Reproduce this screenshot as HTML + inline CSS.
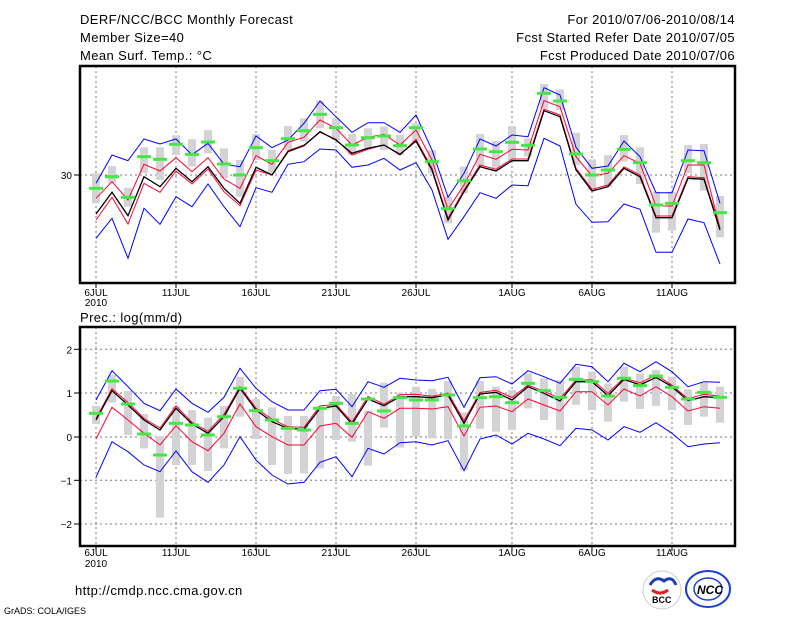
<!DOCTYPE html>
<html><head><meta charset="utf-8"><style>
body{margin:0;background:#fff;width:800px;height:618px;overflow:hidden}
svg{display:block}
text{font-family:"Liberation Sans",sans-serif;fill:#000}
</style></head><body>
<svg id="s" width="800" height="618" xmlns="http://www.w3.org/2000/svg">
<g font-size="13" letter-spacing="0.4">
<text x="80" y="24">DERF/NCC/BCC Monthly Forecast</text>
<text x="80" y="42">Member Size=40</text>
<text x="80" y="60">Mean Surf. Temp.: °C</text>
<text x="735" y="24" text-anchor="end">For 2010/07/06-2010/08/14</text>
<text x="735" y="42" text-anchor="end">Fcst Started Refer Date 2010/07/05</text>
<text x="735" y="60" text-anchor="end">Fcst Produced Date 2010/07/06</text>
<text x="80" y="322">Prec.: log(mm/d)</text>
<text x="75" y="595">http://cmdp.ncc.cma.gov.cn</text>
</g>
<text x="4" y="614" font-size="9">GrADS: COLA/IGES</text>
<g id="g"></g>
<g transform="translate(0,0)">
<circle cx="662" cy="590" r="19" fill="#fff" stroke="#ccc"/>
<path d="M650 585 q6 -10 14 -4 q8 -6 12 4" fill="none" stroke="#1a3fb0" stroke-width="3"/>
<path d="M652 590 q8 6 16 0" fill="none" stroke="#e02020" stroke-width="3"/>
<text x="652" y="603" font-size="9" font-weight="bold" fill="#1a3fb0">BCC</text>
<ellipse cx="708" cy="589" rx="22" ry="18" fill="#fff" stroke="#1a3fd0" stroke-width="2"/>
<ellipse cx="708" cy="589" rx="14" ry="11" fill="none" stroke="#1a3fd0" stroke-width="1.5"/>
<text x="697" y="594" font-size="12" font-style="italic" font-weight="bold" fill="#1a3fd0">NCC</text>
</g>
</svg>
<script>
const G=document.getElementById('g');let h='';
const X=i=>96+16*i;
function T(a){return a.map(v=>60+v/3)}
function B(a){return a.map(v=>320+v/3)}
function pl(a,c,w){h+=`<polyline fill="none" stroke="${c}" stroke-width="${w||1}" points="${a.map((y,i)=>X(i)+','+y.toFixed(1)).join(' ')}"/>`}
// TOP
const tBU=T([370,285,302,237,252,237,284,250,313,320,228,263,240,190,123,170,217,188,188,217,165,270,412,340,237,258,225,230,83,105,262,325,318,243,290,398,398,270,272,430]);
const tRU=T([415,365,420,313,333,293,335,293,357,385,287,313,247,232,180,205,255,232,223,255,210,300,448,375,283,298,268,270,122,140,290,348,340,287,310,438,438,315,315,505]);
const tK=T([462,397,467,350,380,325,365,320,385,430,322,345,275,257,215,240,280,265,255,283,243,330,480,395,320,333,302,302,152,170,330,393,380,325,350,473,473,355,358,510]);
const tRL=T([480,412,492,370,397,333,372,327,395,437,330,345,272,255,217,238,285,268,255,285,238,325,475,390,315,328,297,297,147,165,325,388,375,320,345,468,468,350,353,505]);
const tBL=T([535,475,595,445,493,410,440,372,440,500,383,397,313,305,267,270,322,315,295,330,308,390,538,470,398,415,375,377,235,258,433,487,485,432,448,577,577,477,488,612]);
const tG=T([385,350,412,290,298,253,283,246,312,345,263,302,236,212,163,203,255,233,228,257,203,305,446,362,267,275,247,256,100,123,282,345,330,268,308,435,430,302,308,458]);
const tGr=[[340,430],[318,370],[383,440],[262,340],[262,360],[226,285],[238,320],[210,280],[265,355],[300,410],[222,300],[270,340],[198,270],[175,245],[122,205],[175,240],[222,285],[205,268],[200,270],[225,285],[190,245],[270,340],[410,490],[320,400],[222,320],[243,325],[198,300],[235,290],[72,145],[88,150],[218,315],[298,390],[285,380],[225,305],[262,372],[395,518],[395,512],[255,340],[252,392],[408,532]];
// BOTTOM
const bBU=B([240,152,200,250,272,207,250,277,232,145,205,245,270,270,212,208,260,185,202,175,180,182,172,262,173,170,192,152,170,190,133,140,185,130,155,125,155,200,185,187]);
const bK=B([300,212,255,300,330,265,312,340,290,205,270,305,325,328,265,258,312,237,257,230,230,233,225,310,222,217,240,200,220,243,185,185,227,178,195,172,200,242,230,233]);
const bRU=bK.map((v,i)=>v-1.5-(i%3)*0.5);
const bRL=B([357,262,300,340,375,317,365,392,340,252,320,350,375,375,318,310,352,275,295,265,265,267,260,348,262,258,275,237,255,273,215,215,255,207,228,200,230,273,260,265]);
const bBL=B([472,365,395,435,455,393,455,487,435,350,420,465,492,487,427,410,470,385,402,368,365,375,362,452,357,345,372,340,357,377,325,330,360,320,337,308,340,380,372,368]);
const bG=B([280,183,252,342,405,310,315,345,290,205,272,300,325,330,265,250,310,237,273,233,240,240,225,318,233,230,248,190,212,232,178,185,228,175,197,168,202,237,217,232]);
const bGr=[[258,312],[165,248],[213,345],[282,385],[348,593],[260,435],[270,435],[293,453],[258,385],[170,290],[237,357],[262,435],[288,462],[288,460],[258,445],[228,360],[222,365],[272,437],[188,323],[218,383],[200,350],[207,355],[183,358],[277,450],[183,327],[200,335],[210,330],[160,265],[175,300],[180,330],[140,255],[155,270],[190,305],[140,245],[160,267],[150,258],[170,270],[208,315],[188,290],[200,308]];
function panel(y0,y1,hl){
  // grid
  [0,5,10,15,20,26,31,36].forEach(i=>{h+=`<line x1="${X(i)}" y1="${y0}" x2="${X(i)}" y2="${y1}" stroke="#777" stroke-dasharray="2,3"/>`;
    h+=`<line x1="${X(i)}" y1="${y1}" x2="${X(i)}" y2="${y1+5}" stroke="#000"/>`;});
  hl.forEach(y=>{h+=`<line x1="80" y1="${y}" x2="735" y2="${y}" stroke="#777" stroke-dasharray="2,3"/><line x1="74" y1="${y}" x2="80" y2="${y}" stroke="#000"/>`});
}
function series(gr,G,BU,RU,K,RL,BL,tr){
  gr.forEach((g,i)=>{const a=tr(g);h+=`<rect x="${X(i)-4}" y="${a[0]}" width="8" height="${a[1]-a[0]}" fill="#d3d3d6"/>`});
  pl(BU,'#0000ff');pl(BL,'#0000ff');pl(RU,'#ff0033');pl(RL,'#ff0033');pl(K,'#000',1.3);
  G.forEach((y,i)=>{h+=`<rect x="${X(i)-7}" y="${y-1.5}" width="14" height="3" fill="#44e844"/>`});
}
panel(66,283,[175]);
series(tGr,tG,tBU,tRU,tK,tRL,tBL,T);
panel(327,546,[349.3,393,437,480.3,524]);
series(bGr,bG,bBU,bRU,bK,bRL,bBL,B);
h+=`<rect x="80" y="66" width="655" height="217" fill="none" stroke="#000" stroke-width="2.5"/>`;
h+=`<rect x="80" y="327" width="655" height="219" fill="none" stroke="#000" stroke-width="2.5"/>`;
const labs=[[0,'6JUL'],[5,'11JUL'],[10,'16JUL'],[15,'21JUL'],[20,'26JUL'],[26,'1AUG'],[31,'6AUG'],[36,'11AUG']];
[[296,306],[556,567]].forEach(([a,b])=>{labs.forEach(([i,t])=>{h+=`<text x="${X(i)}" y="${a}" font-size="10" text-anchor="middle">${t}</text>`});h+=`<text x="96" y="${b}" font-size="10" text-anchor="middle">2010</text>`});
h+=`<text x="72" y="179" font-size="10" text-anchor="end">30</text>`;
[[2,349.3],[1,393],[0,437],[-1,480.3],[-2,524]].forEach(([v,y])=>{h+=`<text x="72" y="${y+4}" font-size="10" text-anchor="end">${v<0?'−'+(-v):v}</text>`});
G.innerHTML=h;
</script>
</body></html>
